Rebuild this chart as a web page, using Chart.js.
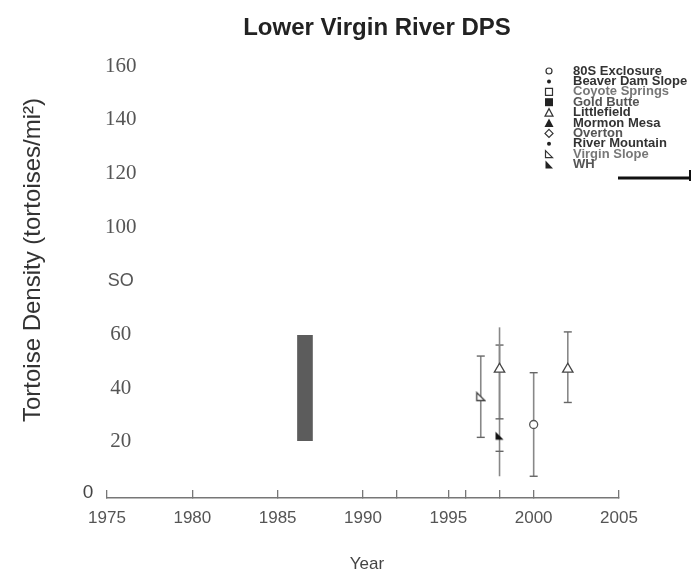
<!DOCTYPE html>
<html><head><meta charset="utf-8">
<script src="https://cdn.jsdelivr.net/npm/chart.js@4.4.1/dist/chart.umd.min.js"></script>
<style>html,body{margin:0;padding:0;background:#fff;}#wrap{width:696px;height:574px;position:relative}</style>
</head><body><div id="wrap"><canvas id="c" width="696" height="574"></canvas></div>
<script>
// ---- data ----
const chartTitle = 'Lower Virgin River DPS';
const xTitle = 'Year';
const yTitle = 'Tortoise Density (tortoises/mi\u00B2)';
const seriesNames = ['80S Exclosure','Beaver Dam Slope','Coyote Springs','Gold Butte','Littlefield','Mormon Mesa','Overton','River Mountain','Virgin Slope','WH'];
const legendMarkers = ['openCircle','dot','openSquare','filledSquare','openTriangle','filledTriangle','openDiamond','dot','openRightTri','filledRightTri'];
const legendColors = ['#333','#333','#777','#555','#333','#333','#555','#333','#777','#555'];

const goldButteYears = [1986.6];
const goldButteRanges = [[20.4, 59.6]];
const exclosureYears = [2000];
const exclosureValues = [26.4];
const littlefieldYears = [1998, 2002];
const littlefieldValues = [47, 47];
const virginSlopeYears = [1996.9];
const virginSlopeValues = [36.8];
const whYears = [1998];
const whValues = [22.2];

const errYears = [1996.9, 1998, 1998, 2000, 2002];
const errLow = [21.6, 28.5, 7.1, 7.1, 34.6];
const errHigh = [51.9, 62.6, 56, 45.7, 60.9];
const errLowCap = [true, true, false, true, true];
const errHighCap = [true, false, true, true, true];
const extraCapYears = [1998];
const extraCapValues = [16.4];

const xTickValues = [1975,1980,1985,1990,1992,1995,1996,1998,2000,2005];
const yTickValues = [20,40,60,80,100,120,140,160];
const yTickLabels = ['20','40','60','SO','100','120','140','160'];

// ---- markers ----
function rightTri(filled){
  const c=document.createElement('canvas'); c.width=11; c.height=11;
  const g=c.getContext('2d');
  g.beginPath(); g.moveTo(1.5,1.5); g.lineTo(1.5,9.5); g.lineTo(9.5,9.5); g.closePath();
  if(filled){g.fillStyle='#111'; g.fill();} else {g.fillStyle='#fff'; g.fill(); g.strokeStyle='#444'; g.lineWidth=1.3; g.stroke();}
  return c;
}
const openRT = rightTri(false), filledRT = rightTri(true);

const SANS = '"Liberation Sans", Arial, Helvetica, sans-serif';
const SERIF = '"Liberation Serif", "Times New Roman", serif';

const datasets = [];
datasets.push({type:'scatter', label:seriesNames[4], data:littlefieldYears.map((x,i)=>({x, y:littlefieldValues[i]})), pointStyle:'triangle', pointRadius:6, pointBackgroundColor:'#fff', pointBorderColor:'#444', pointBorderWidth:1.3, order:0});
datasets.push({type:'scatter', label:seriesNames[0], data:exclosureYears.map((x,i)=>({x, y:exclosureValues[i]})), pointStyle:'circle', pointRadius:4, pointBackgroundColor:'#fff', pointBorderColor:'#555', pointBorderWidth:1.3, order:0});
datasets.push({type:'scatter', label:seriesNames[8], data:virginSlopeYears.map((x,i)=>({x, y:virginSlopeValues[i]})), pointStyle:openRT, order:0});
datasets.push({type:'scatter', label:seriesNames[9], data:whYears.map((x,i)=>({x, y:whValues[i]})), pointStyle:filledRT, order:0});
errYears.forEach((x,i)=>{
  datasets.push({type:'line', label:'err'+i, data:[{x, y:errLow[i]},{x, y:errHigh[i]}], borderColor:'#888', borderWidth:1.6, pointStyle:'line', pointRadius:[errLowCap[i]?4:0, errHighCap[i]?4:0], pointBorderColor:'#666', pointBorderWidth:1.4, fill:false, order:2});
});
datasets.push({type:'scatter', label:'caps', data:extraCapYears.map((x,i)=>({x, y:extraCapValues[i]})), pointStyle:'line', pointRadius:4, pointBorderColor:'#666', pointBorderWidth:1.4, order:1});
datasets.push({type:'bar', label:seriesNames[3], data:goldButteYears.map((x,i)=>({x, y:goldButteRanges[i]})), backgroundColor:'#5c5c5c', barThickness:15, grouped:false, order:3});

function drawMarker(g, kind, x, y){
  g.save(); g.lineWidth=1.2; g.strokeStyle='#333'; g.fillStyle='#222';
  g.beginPath();
  switch(kind){
    case 'openCircle': g.arc(x,y,3,0,Math.PI*2); g.stroke(); break;
    case 'dot': g.arc(x,y,2,0,Math.PI*2); g.fill(); break;
    case 'openSquare': g.rect(x-3.5,y-3.5,7,7); g.stroke(); break;
    case 'filledSquare': g.rect(x-4,y-4,8,8); g.fill(); break;
    case 'openTriangle': g.moveTo(x,y-4); g.lineTo(x+4,y+3.5); g.lineTo(x-4,y+3.5); g.closePath(); g.stroke(); break;
    case 'filledTriangle': g.moveTo(x,y-4.5); g.lineTo(x+4.5,y+4); g.lineTo(x-4.5,y+4); g.closePath(); g.fill(); break;
    case 'openDiamond': g.moveTo(x,y-4); g.lineTo(x+4,y); g.lineTo(x,y+4); g.lineTo(x-4,y); g.closePath(); g.stroke(); break;
    case 'openRightTri': g.moveTo(x-3.5,y-3.5); g.lineTo(x-3.5,y+3.5); g.lineTo(x+3.5,y+3.5); g.closePath(); g.stroke(); break;
    case 'filledRightTri': g.moveTo(x-3.5,y-4); g.lineTo(x-3.5,y+4); g.lineTo(x+4,y+4); g.closePath(); g.fill(); break;
  }
  g.restore();
}

const decor = {
  id:'decor',
  afterDraw(chart){
    const g = chart.ctx; g.save();
    g.textAlign='center'; g.textBaseline='middle';
    g.fillStyle='#222'; g.font='bold 24px '+SANS;
    g.fillText(chartTitle, 377, 28);
    g.fillStyle='#444'; g.font='17px '+SANS;
    g.fillText(xTitle, 367, 564);
    g.fillStyle='#444'; g.font='19px '+SANS;
    g.fillText('0', 88, 493);
    g.save(); g.translate(33, 260); g.rotate(-Math.PI/2);
    g.fillStyle='#333'; g.font='24px '+SANS;
    g.fillText(yTitle, 0, 0); g.restore();
    // legend
    g.textAlign='left';
    seriesNames.forEach((name,i)=>{
      const y = 71 + i*10.4;
      drawMarker(g, legendMarkers[i], 549, y);
      g.fillStyle=legendColors[i]; g.font='bold 13px '+SANS;
      g.fillText(name, 573, y);
    });
    // decorative bracket line
    g.strokeStyle='#111'; g.lineWidth=3;
    g.beginPath(); g.moveTo(618,178); g.lineTo(690,178); g.stroke();
    g.lineWidth=2; g.beginPath(); g.moveTo(690,170); g.lineTo(690,181); g.stroke();
    g.restore();
  }
};

new Chart(document.getElementById('c'), {
  data:{datasets},
  options:{
    responsive:false, animation:false,
    layout:{padding:{top:66, right:77, left:0, bottom:0}},
    plugins:{legend:{display:false}, title:{display:false}, tooltip:{enabled:false}},
    scales:{
      x:{type:'linear', min:1975, max:2005, offset:false,
        afterBuildTicks:s=>{s.ticks = xTickValues.map(v=>({value:v}));},
        ticks:{autoSkip:false, maxRotation:0, padding:18, color:'#555', font:{family:SANS, size:17},
          callback:v=> v%5===0 ? String(v) : ''},
        grid:{offset:false, drawOnChartArea:false, drawTicks:true, tickLength:-8, color:'#777', lineWidth:1.3},
        border:{display:true, color:'#777', width:1.5},
        afterFit:s=>{s.height=76;}
      },
      y:{type:'linear', min:-1, max:160,
        afterBuildTicks:s=>{s.ticks = yTickValues.map(v=>({value:v}));},
        ticks:{mirror:true, crossAlign:'center', padding:-2, color:'#555',
          font:c=> (c.tick && c.tick.value===80) ? {family:SANS, size:18} : {family:SERIF, size:21},
          callback:v=> yTickLabels[yTickValues.indexOf(v)]},
        grid:{display:false, drawTicks:false},
        border:{display:false},
        afterFit:s=>{s.width=107;}
      }
    }
  },
  plugins:[decor]
});
</script></body></html>
